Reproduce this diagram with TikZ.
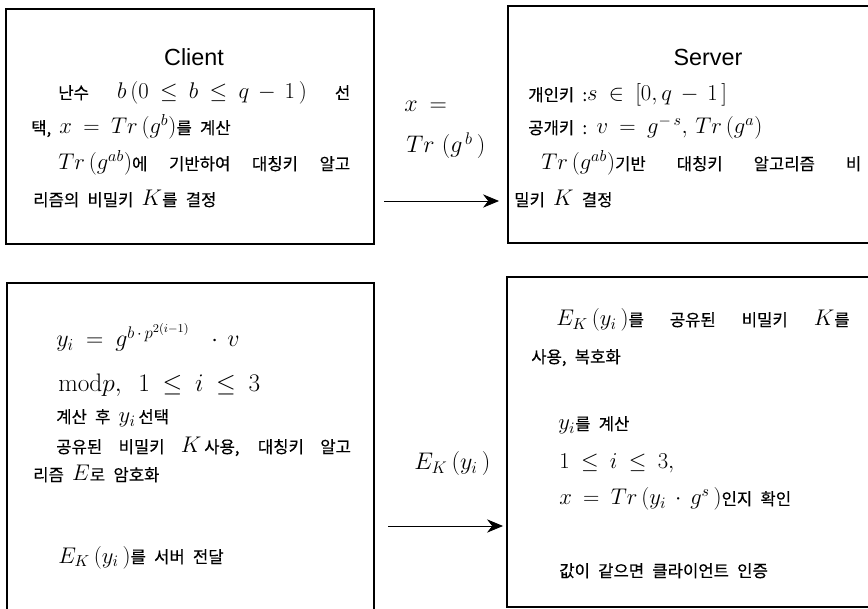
\documentclass[tikz,border=0pt]{standalone}
\usepackage{fix-cm}
\usepackage{amsmath,amssymb}
\usepackage{fontspec}
\newfontfamily\kr[WordSpace=2.2,FakeBold=0.4]{Noto Sans CJK KR}
\newfontfamily\hv{Liberation Sans}
\usetikzlibrary{arrows.meta}
\medmuskip=7mu
\thickmuskip=9mu
\newcommand{\mth}[2][17]{{\fontsize{#1}{#1}\selectfont$#2$}}

\begin{document}
\begin{tikzpicture}[x=0.75pt,y=0.75pt,yscale=-1,xscale=1,
  every node/.style={inner sep=0.75pt},
  txt/.style={anchor=base west,font=\kr\fontsize{12.5}{15}\selectfont},
  ttl/.style={anchor=base,font=\hv\fontsize{17.5}{20}\selectfont},
  msg/.style={anchor=base west,font=\fontsize{18}{21}\selectfont},
  box/.style={line width=0.9pt},
  flow/.style={line width=0.6pt,-{Stealth[length=12pt,width=10pt]}}]
\useasboundingbox (0,0) rectangle (868,609);

%Shape: Rectangle [id:client1]
\draw [box] (6,9) rectangle (374,244);
%Shape: Rectangle [id:server1]
\draw [box] (508,6) rectangle (872,243);
%Shape: Rectangle [id:client2]
\draw [box] (7,283) rectangle (374,614);
%Shape: Rectangle [id:server2]
\draw [box] (507,277) rectangle (872,607);

% Text Node
\node [ttl] (cl) at (194,66) {Client};
\node [txt] (cl1) at (57,99) {\makebox[219pt][s]{난수 \mth{b\,(0\le b\le q-1\,)} 선}};
\node [txt] (cl2) at (30,134) {택, \mth{x=Tr\,(g^{b})}를 계산};
\node [txt] (cl3) at (57,170) {\makebox[219pt][s]{\mth{Tr\,(g^{ab})}에 기반하여 대칭키 알고}};
\node [txt] (cl4) at (32,206) {리즘의 비밀키 \mth{K}를 결정};

% Text Node
\node [msg] (mx1) at (403,112) {$x=$};
\node [msg] (mx2) at (405,153) {$Tr\ (g^{\,b}\,)$};

% Text Node
\node [ttl] (sv) at (708,66) {Server};
\node [txt] (sv1) at (527,101) {개인키 :\mth{s\in[0,q-1\,]}};
\node [txt] (sv2) at (527,134) {공개키 : \mth{v=g^{-\,s},\,Tr\,(g^{a})}};
\node [txt] (sv3) at (540,170) {\makebox[240pt][s]{\mth{Tr\,(g^{ab})}기반 대칭키 알고리즘 비}};
\node [txt] (sv4) at (513,206) {밀키 \mth{K} 결정};

% Text Node
\node [txt] (cb1) at (55,347) {\mth[18]{y_i=g^{b\,\cdot\,p^{2(i-1)}}\;\cdot v}};
\node [txt] (cb2) at (57,392) {\mth[19]{\mathrm{mod}p,\ 1\le i\le 3}};
\node [txt] (cb3) at (55,423) {계산 후 \mth{y_i}\,선택};
\node [txt] (cb4) at (55,453) {\makebox[221pt][s]{공유된 비밀키 \mth{K}\,사용, 대칭키 알고}};
\node [txt] (cb5) at (32,481) {리즘 \mth{E}로 암호화};
\node [txt] (cb6) at (57,563) {\mth{E_K\,(y_i\,)}를 서버 전달};

% Text Node
\node [msg] (my) at (413,470) {$E_K\,(y_i\,)$};

% Text Node
\node [txt] (sb1) at (555,326) {\makebox[220pt][s]{\mth{E_K\,(y_i\,)}를 공유된 비밀키 \mth{K}를}};
\node [txt] (sb2) at (530,363) {사용, 복호화};
\node [txt] (sb3) at (557,430) {\mth{y_i}를 계산};
\node [txt] (sb4) at (558,469) {\mth{1\le i\le 3,}};
\node [txt] (sb5) at (558,505) {\mth{x=Tr\,(y_i\cdot g^{s}\,)}인지 확인};
\node [txt] (sb6) at (558,577) {값이 같으면 클라이언트 인증};

%Straight Lines
\coordinate (ar1s) at (384,201);
\coordinate (ar1e) at (499,201);
\coordinate (ar2s) at (388,526);
\coordinate (ar2e) at (503,526);
\draw [flow] (ar1s) -- (ar1e);
\draw [flow] (ar2s) -- (ar2e);

\end{tikzpicture}
\end{document}
